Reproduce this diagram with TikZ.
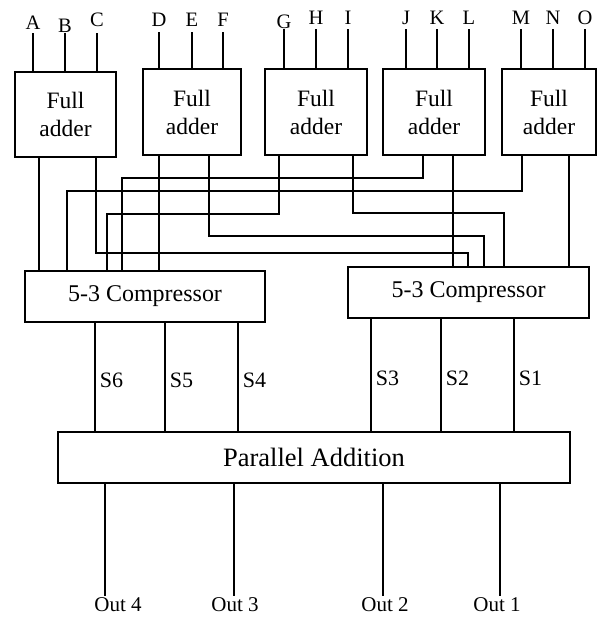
\documentclass[tikz,border=0pt]{standalone}
\usepackage{fontspec}
\setmainfont{Liberation Serif}
\usepackage{tikz}
\usetikzlibrary{calc}

\begin{document}
\begin{tikzpicture}[x=1pt, y=-1pt, line width=1.6pt,
    fa/.style={draw, line width=2pt, minimum width=102pt, minimum height=86pt, inner sep=0pt, align=center, font=\fontsize{23.5}{28}\selectfont},
    comp/.style={draw, line width=2pt, minimum width=241pt, minimum height=51pt, font=\fontsize{24}{28}\selectfont},
    pin/.style={anchor=base, inner sep=1pt, font=\fontsize{20.5}{24}\selectfont},
    sig/.style={right, pos=0.53, inner sep=4pt, font=\fontsize{22}{26}\selectfont},
    outl/.style={anchor=north, inner sep=1pt, font=\fontsize{21}{24}\selectfont}]
    \useasboundingbox (0,0) rectangle (602,619);
    \node[fa, minimum width=101pt, minimum height=85pt] (fa1) at (65.5,114.5) {Full\\adder};
    \node[fa, minimum width=98pt] (fa2) at (192,112) {Full\\adder};
    \node[fa] (fa3) at (316,112) {Full\\adder};
    \node[fa] (fa4) at (434,112) {Full\\adder};
    \node[fa, minimum width=94pt] (fa5) at (549,112) {Full\\adder};
    \foreach \n/\x/\b/\t/\f in {A/33/29/33/fa1, B/65/32/33/fa1, C/97/26/33/fa1,
        D/159/26/32/fa2, E/192/26/32/fa2, F/223/26/32/fa2,
        G/284/28/29/fa3, H/316/24/29/fa3, I/348/24/29/fa3,
        J/406/24/29/fa4, K/437/24/29/fa4, L/469/24/29/fa4,
        M/521/24/29/fa5, N/553/24/29/fa5, O/585/24/29/fa5} {
        \node[pin] (\n) at (\x,\b) {\n};
        \draw (\n |- 0,\t) -- (\n |- \f.north);
    }
    \node[comp, minimum width=240pt] (comp1) at (145,296.5) {5-3 Compressor};
    \node[comp] (comp2) at (468.5,292.5) {5-3 Compressor};
    \draw ([xshift=-26.5]fa1.south) -- ([xshift=-106]comp1.north);
    \draw ([xshift=30.5]fa1.south) -- ++(0,95) -| ([xshift=-0.5]comp2.north);
    \draw ([xshift=-33]fa2.south) -- ([xshift=14]comp1.north);
    \draw ([xshift=17]fa2.south) -- ++(0,80) -| ([xshift=15.5]comp2.north);
    \draw ([xshift=-37]fa3.south) -- ++(0,58) -| ([xshift=-38]comp1.north);
    \draw ([xshift=37]fa3.south) -- ++(0,57) -| ([xshift=35.5]comp2.north);
    \draw ([xshift=-11]fa4.south) -- ++(0,22) -| ([xshift=-23]comp1.north);
    \draw ([xshift=19]fa4.south) -- ([xshift=-15.5]comp2.north);
    \draw ([xshift=-27]fa5.south) -- ++(0,35) -| ([xshift=-78]comp1.north);
    \draw ([xshift=20]fa5.south) -- ([xshift=100.5]comp2.north);
    \node[draw, line width=2pt, minimum width=512pt, minimum height=51pt, font=\fontsize{26.5}{30}\selectfont] (par) at (314,457.5) {Parallel Addition};
    \draw ([xshift=-50]comp1.south) -- ([xshift=-219]par.north) node[sig] (s6) {S6};
    \draw ([xshift=20]comp1.south) -- ([xshift=-149]par.north) node[sig] (s5) {S5};
    \draw ([xshift=93]comp1.south) -- ([xshift=-76]par.north) node[sig] (s4) {S4};
    \draw ([xshift=-97.5]comp2.south) -- ([xshift=57]par.north) node[sig] (s3) {S3};
    \draw ([xshift=-27.5]comp2.south) -- ([xshift=127]par.north) node[sig] (s2) {S2};
    \draw ([xshift=45.5]comp2.south) -- ([xshift=200]par.north) node[sig] (s1) {S1};
    \foreach \k/\x/\d in {4/105/13, 3/234/1, 2/383/2, 1/500/-3} {
        \coordinate (e\k) at (\x,596);
        \node[outl] (o\k) at ([xshift=\d]e\k) {Out \k};
        \draw (e\k |- par.south) -- (e\k);
    }
\end{tikzpicture}
\end{document}
